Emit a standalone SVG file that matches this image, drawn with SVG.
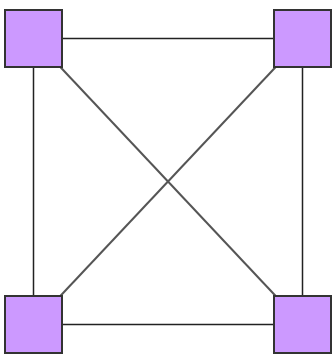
<svg xmlns="http://www.w3.org/2000/svg" width="332" height="356" viewBox="0 0 332 356">
<style>
.node{fill:#CC99FF;stroke:#333333;stroke-width:2}
.edge{stroke:#222222;stroke-width:1.5;fill:none}
.diag{stroke:#555555;stroke-width:2;fill:none}
</style>
<rect width="332" height="356" fill="#ffffff"/>
<g id="connectors">
<line class="edge" x1="33.5" y1="38.5" x2="302.5" y2="38.5"/>
<line class="edge" x1="33.5" y1="38.5" x2="33.5" y2="324.5"/>
<line class="edge" x1="302.5" y1="38.5" x2="302.5" y2="324.5"/>
<line class="edge" x1="33.5" y1="324.5" x2="302.5" y2="324.5"/>
<line class="diag" x1="33.5" y1="38.5" x2="302.5" y2="324.5"/>
<line class="diag" x1="302.5" y1="38.5" x2="33.5" y2="324.5"/>
</g>
<g id="n1"><rect class="node" x="5" y="10" width="57" height="57"/></g>
<g id="n2"><rect class="node" x="274" y="10" width="57" height="57"/></g>
<g id="n3"><rect class="node" x="5" y="296" width="57" height="57"/></g>
<g id="n4"><rect class="node" x="274" y="296" width="57" height="57"/></g>
</svg>
